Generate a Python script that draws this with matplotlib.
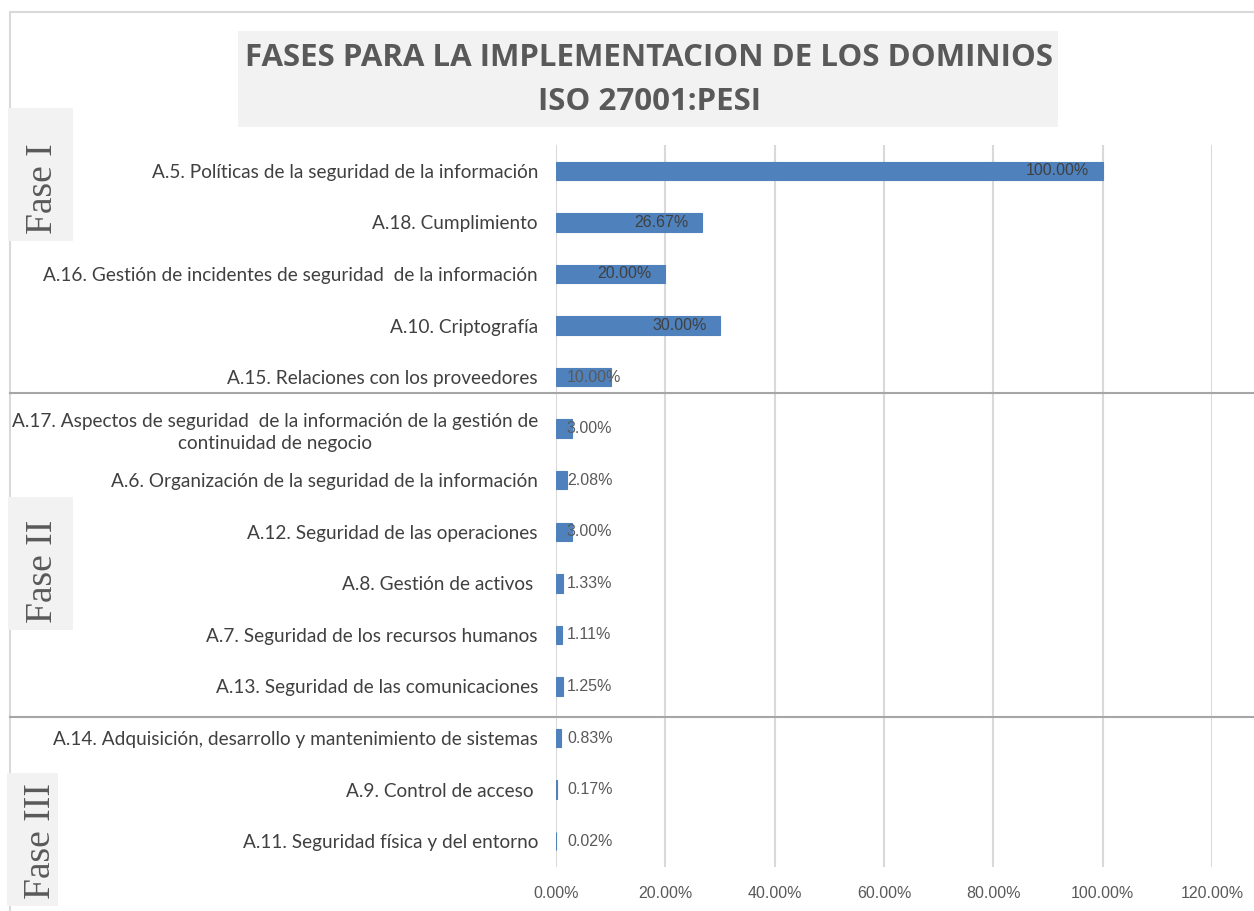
import matplotlib
matplotlib.use("Agg")
import matplotlib.pyplot as plt
from matplotlib.patches import Rectangle
from matplotlib.lines import Line2D
from matplotlib.ticker import FuncFormatter

categories = [
    "A.5. Políticas de la seguridad de la información",
    "A.18. Cumplimiento",
    "A.16. Gestión de incidentes de seguridad  de la información",
    "A.10. Criptografía",
    "A.15. Relaciones con los proveedores",
    "A.17. Aspectos de seguridad  de la información de la gestión de\ncontinuidad de negocio",
    "A.6. Organización de la seguridad de la información",
    "A.12. Seguridad de las operaciones",
    "A.8. Gestión de activos ",
    "A.7. Seguridad de los recursos humanos",
    "A.13. Seguridad de las comunicaciones",
    "A.14. Adquisición, desarrollo y mantenimiento de sistemas",
    "A.9. Control de acceso ",
    "A.11. Seguridad física y del entorno",
]
values = [100.0, 26.67, 20.0, 30.0, 10.0, 3.0, 2.08, 3.0, 1.33, 1.11, 1.25, 0.83, 0.17, 0.02]
xticks = [0, 20, 40, 60, 80, 100, 120]
phases = ["Fase I", "Fase II", "Fase III"]
title = "FASES PARA LA IMPLEMENTACION DE LOS DOMINIOS\nISO 27001:PESI"

W, H = 1254, 911
fig = plt.figure(figsize=(W / 100, H / 100), dpi=100)
fig.patch.set_facecolor("white")

def fx(px):
    return px / W

def fy(py):
    return 1 - py / H

# outer frame
fig.add_artist(Rectangle((fx(10), fy(1000)), 1.2, fy(12) - fy(1000), transform=fig.transFigure,
                         facecolor="none", edgecolor="#d9d9d9", lw=1.5, zorder=0))

ax = fig.add_axes([fx(556), fy(867), fx(1212) - fx(556), fy(145) - fy(867)])
y = list(range(len(categories)))
ax.barh(y, values, height=0.36, color="#4f81bd", edgecolor="#4f81bd", lw=0.8, zorder=3)
ax.set_xlim(0, 120)
ax.set_ylim(len(categories) - 0.5, -0.5)
ax.set_xticks(xticks)
ax.xaxis.set_major_formatter(FuncFormatter(lambda v, p: f"{v:.2f}%"))
ax.set_yticks(y)
ax.set_yticklabels(categories, fontsize=13.7, family="Lato", color="#404040",
                   multialignment="center", linespacing=1.35)
ax.tick_params(axis="y", length=0, pad=13)
ax.tick_params(axis="x", length=0, pad=14, labelsize=11.5, labelcolor="#595959")
for lbl in ax.get_xticklabels():
    lbl.set_family("Liberation Sans")
ax.grid(axis="x", color="#d9d9d9", lw=1.5, zorder=0)
for s in ax.spines.values():
    s.set_visible(False)

for i, v in enumerate(values):
    txt = f"{v:.2f}%"
    if v >= 20:
        ax.text(v - 2.5, i, txt, ha="right", va="center", fontsize=11.5,
                family="Liberation Sans", color="#404040", zorder=4)
    else:
        ax.text(2.0, i, txt, ha="left", va="center", fontsize=11.5,
                family="Liberation Sans", color="#595959", zorder=4)

# separators between phases
for py in (393, 717):
    fig.add_artist(Line2D([fx(10), 1.0], [fy(py), fy(py)], transform=fig.transFigure,
                          color="#a6a6a6", lw=1.5, zorder=5))

# title box
fig.add_artist(Rectangle((fx(238), fy(127)), fx(1058) - fx(238), fy(31) - fy(127),
                         transform=fig.transFigure, facecolor="#f2f2f2", edgecolor="none", zorder=1))
fig.text(fx(649), fy(80), title, ha="center", va="center", fontsize=22.5, fontweight="bold",
         family="Open Sans", color="#595959", linespacing=1.6, zorder=2)

# phase boxes
boxes = [(8, 108, 73, 241), (8, 497, 73, 630), (7, 773, 58, 906)]
centers = [(43, 189), (43, 571), (41, 841)]
for (x0, y0, x1, y1), (cx, cy), name in zip(boxes, centers, phases):
    fig.add_artist(Rectangle((fx(x0), fy(y1)), fx(x1) - fx(x0), fy(y0) - fy(y1),
                             transform=fig.transFigure, facecolor="#f2f2f2", edgecolor="none", zorder=1))
    fig.text(fx(cx), fy(cy), name, rotation=90, ha="center", va="center", fontsize=27,
             family="Liberation Serif", color="#595959", zorder=2)

fig.savefig("out.png", dpi=100)
